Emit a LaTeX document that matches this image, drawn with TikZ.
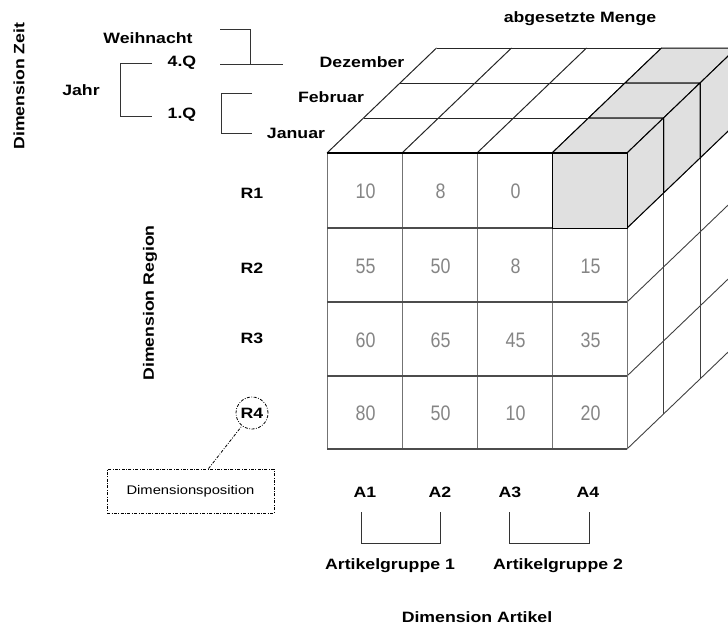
\documentclass[tikz,border=0pt]{standalone}
\usepackage{fontspec}
\setmainfont{Liberation Sans}[FakeStretch=1.18]
\newfontfamily\numfont{Liberation Sans}[FakeStretch=0.85]
\begin{document}
\begin{tikzpicture}[x=1pt,y=-1pt,
  lbl/.style={font=\fontsize{15}{17}\selectfont\bfseries, inner sep=1pt},
  num/.style={font=\numfont\fontsize{21}{24}\selectfont, text=black!48, inner sep=0pt},
  dashdot/.style={dash pattern=on 3pt off 1.5pt on 0.8pt off 1.5pt, line width=0.8pt},
  brk/.style={line width=0.9pt, black!80},
  topline/.style={line width=1pt, black!85},
  sideline/.style={line width=0.9pt, black!75},
  gridv/.style={line width=0.7pt, black!55},
  gridh/.style={line width=1.1pt, black!70},
  cubeface/.style={fill=black!12, draw=black, line width=1pt, line join=round}]
\useasboundingbox (0,0) rectangle (728,630);

% ---------- time dimension hierarchy ----------
\node[lbl, rotate=90] (dzeit) at (19,86) {Dimension Zeit};
\node[lbl] (weih) at (148,38) {Weihnacht};
\node[lbl] (q4) at (182,63) {4.Q};
\node[lbl] (jahr) at (81,90) {Jahr};
\node[lbl] (q1) at (182,115) {1.Q};
\node[lbl] (dez) at (362,62) {Dezember};
\node[lbl] (feb) at (331,97) {Februar};
\node[lbl] (jan) at (296,133) {Januar};
\node[lbl] (menge) at (580,19) {abgesetzte Menge};

\coordinate (wtop) at (220,29);
\coordinate (wjoin) at (250,64);
\coordinate (qa) at (220,64);
\coordinate (qb) at (283,64);
\draw[brk] (wtop) -| (wjoin);
\draw[brk] (qa) -- (qb);
\coordinate (jt) at (152,63);
\coordinate (jb) at (152,116);
\draw[brk] (jt) -- ++(-32,0) |- (jb);
\coordinate (ft) at (252,93);
\coordinate (fb) at (252,133);
\draw[brk] (ft) -- ++(-31,0) |- (fb);

% ---------- the cube ----------
\begin{scope}
\clip (0,0) rectangle (728,630);
% top face
\foreach \k in {0,...,3}
  \draw[topline] ({327+\k*36.5},{153-\k*35}) -- ({627+\k*36.5},{153-\k*35});
\foreach \x in {327,402,477,552,627}
  \draw[topline] (\x,153) -- ({\x+109.5},48);
% right face
\foreach \k in {1,2,3}
  \draw[sideline] ({627+\k*36.5},{153-\k*35}) -- ({627+\k*36.5},{449-\k*35});
\foreach \y in {228,302,376,449}
  \draw[sideline] (627,\y) -- (736.5,{\y-105});
% front face
\foreach \x in {327,402,477,552,627}
  \draw[gridv] (\x,153) -- (\x,449);
\foreach \y in {228,302,376,449}
  \draw[gridh] (327,\y) -- (627,\y);
% highlighted slice: article A4, region R1, all months
\foreach \k in {2,1,0} {
  \filldraw[cubeface] ({552+\k*36.5},{153-\k*35}) -- ({552+(\k+1)*36.5},{153-(\k+1)*35})
     -- ({627+(\k+1)*36.5},{153-(\k+1)*35}) -- ({627+\k*36.5},{153-\k*35}) -- cycle;
  \filldraw[cubeface] ({627+\k*36.5},{153-\k*35}) -- ({627+(\k+1)*36.5},{153-(\k+1)*35})
     -- ({627+(\k+1)*36.5},{228-(\k+1)*35}) -- ({627+\k*36.5},{228-\k*35}) -- cycle;
  \filldraw[cubeface] ({552+\k*36.5},{153-\k*35}) rectangle ({627+\k*36.5},{228-\k*35});
}
\draw[line width=2.2pt] (327,153) -- (627,153);
\end{scope}

% cell values
\foreach \v [count=\i] in {10,8,0}
  \node[num] (c-1-\i) at ({365.5+(\i-1)*75},191) {\v};
\foreach \v [count=\i] in {55,50,8,15}
  \node[num] (c-2-\i) at ({365.5+(\i-1)*75},266) {\v};
\foreach \v [count=\i] in {60,65,45,35}
  \node[num] (c-3-\i) at ({365.5+(\i-1)*75},340) {\v};
\foreach \v [count=\i] in {80,50,10,20}
  \node[num] (c-4-\i) at ({365.5+(\i-1)*75},413) {\v};

% ---------- region dimension ----------
\node[lbl, rotate=90] (dreg) at (150,303) {Dimension Region};
\node[lbl] (r1) at (252,193) {R1};
\node[lbl] (r2) at (252,268) {R2};
\node[lbl] (r3) at (252,338) {R3};
\node[lbl, circle, draw, dashdot, minimum size=32pt, inner sep=0pt] (r4) at (252,413) {R4};
\node[draw, dashdot, minimum width=167pt, minimum height=44pt,
      font=\fontsize{12.5}{14}\selectfont] (dp) at (190.5,491) {Dimensionsposition};
\draw[dashdot] ([xshift=18pt]dp.north) -- (r4);

% ---------- article dimension ----------
\node[lbl] (a1) at (365,492) {A1};
\node[lbl] (a2) at (440,492) {A2};
\node[lbl] (a3) at (510,492) {A3};
\node[lbl] (a4) at (588,492) {A4};
\coordinate (g1a) at (361,512);
\coordinate (g1b) at (440,512);
\coordinate (g2a) at (509,512);
\coordinate (g2b) at (589,512);
\draw[brk] (g1a) -- ++(0,31) -| (g1b);
\draw[brk] (g2a) -- ++(0,31) -| (g2b);
\node[lbl] (ag1) at (390,566) {Artikelgruppe 1};
\node[lbl] (ag2) at (558,566) {Artikelgruppe 2};
\node[lbl] (dart) at (477,617) {Dimension Artikel};
\end{tikzpicture}
\end{document}
